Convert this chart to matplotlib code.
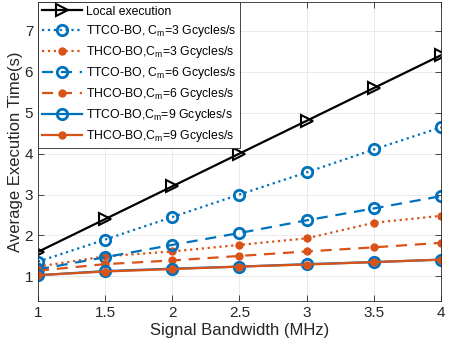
import matplotlib
matplotlib.use("Agg")
import matplotlib.pyplot as plt

plt.rcParams.update({
    "font.family": ["Liberation Sans", "DejaVu Sans"],
    "mathtext.default": "regular",
    "font.size": 11,
})

bandwidth = [1, 1.5, 2, 2.5, 3, 3.5, 4]
local_exec = [1.6, 2.4, 3.2, 4.0, 4.8, 5.6, 6.4]
ttco_cm3 = [1.36, 1.9, 2.45, 3.0, 3.54, 4.1, 4.64]
thco_cm3 = [1.24, 1.49, 1.61, 1.77, 1.93, 2.31, 2.48]
ttco_cm6 = [1.17, 1.47, 1.77, 2.06, 2.37, 2.66, 2.96]
thco_cm6 = [1.14, 1.3, 1.39, 1.5, 1.61, 1.71, 1.82]
ttco_cm9 = [1.03, 1.13, 1.19, 1.24, 1.3, 1.35, 1.41]
thco_cm9 = [1.03, 1.12, 1.18, 1.24, 1.29, 1.35, 1.41]

labels = ["Local execution",
          "TTCO-BO, C$_m$=3 Gcycles/s",
          "THCO-BO,C$_m$=3 Gcycles/s",
          "TTCO-BO, C$_m$=6 Gcycles/s",
          "THCO-BO,C$_m$=6 Gcycles/s",
          "TTCO-BO,C$_m$=9 Gcycles/s",
          "THCO-BO,C$_m$=9 Gcycles/s"]

BLUE = "#0072BD"
ORANGE = "#D95319"
DASH = (0, (5, 3.5))

fig = plt.figure(figsize=(4.52, 3.52), dpi=100)
ax = fig.add_axes([38 / 452, 51 / 352, 403 / 452, 299 / 352])

ax.plot(bandwidth, local_exec, color="black", lw=1.6, marker=">", ms=9,
        mfc="none", mew=1.5, label=labels[0])
ax.plot(bandwidth, ttco_cm3, color=BLUE, lw=1.6, ls=":", marker="o", ms=7.5,
        mfc="none", mew=2, label=labels[1])
ax.plot(bandwidth, thco_cm3, color=ORANGE, lw=1.6, ls=":", marker="o", ms=5,
        label=labels[2])
ax.plot(bandwidth, ttco_cm6, color=BLUE, lw=1.6, ls=DASH, marker="o", ms=7.5,
        mfc="none", mew=2, label=labels[3])
ax.plot(bandwidth, thco_cm6, color=ORANGE, lw=1.6, ls=DASH, marker="o", ms=5,
        label=labels[4])
ax.plot(bandwidth, ttco_cm9, color=BLUE, lw=1.6, marker="o", ms=7.5,
        mfc="none", mew=2, label=labels[5])
ax.plot(bandwidth, thco_cm9, color=ORANGE, lw=1.6, marker="o", ms=5,
        label=labels[6])

ax.set_xlim(1, 4)
ax.set_ylim(0.4, 7.7)
ax.set_xticks(bandwidth)
ax.set_xticklabels(["1", "1.5", "2", "2.5", "3", "3.5", "4"])
ax.set_yticks([1, 2, 3, 4, 5, 6, 7])
ax.tick_params(direction="in", length=4, width=0.6, colors="#262626",
               top=True, right=True, labelsize=11)
for s in ax.spines.values():
    s.set_color("#262626")
    s.set_linewidth(0.6)
ax.grid(True, color="#e6e6e6", lw=0.6)
ax.set_axisbelow(True)

ax.set_xlabel("Signal Bandwidth (MHz)", fontsize=12, color="#262626", labelpad=2)
ax.set_ylabel("Average Execution Time(s)", fontsize=12, color="#262626", labelpad=1)

leg = ax.legend(loc="upper left", fontsize=8.8, frameon=True, fancybox=False,
                framealpha=1, borderaxespad=0, handlelength=3.3, handletextpad=0.3,
                labelspacing=0.42, borderpad=0.3)
leg.get_frame().set_edgecolor("#262626")
leg.get_frame().set_linewidth(0.6)

fig.savefig("out.png", dpi=100)
